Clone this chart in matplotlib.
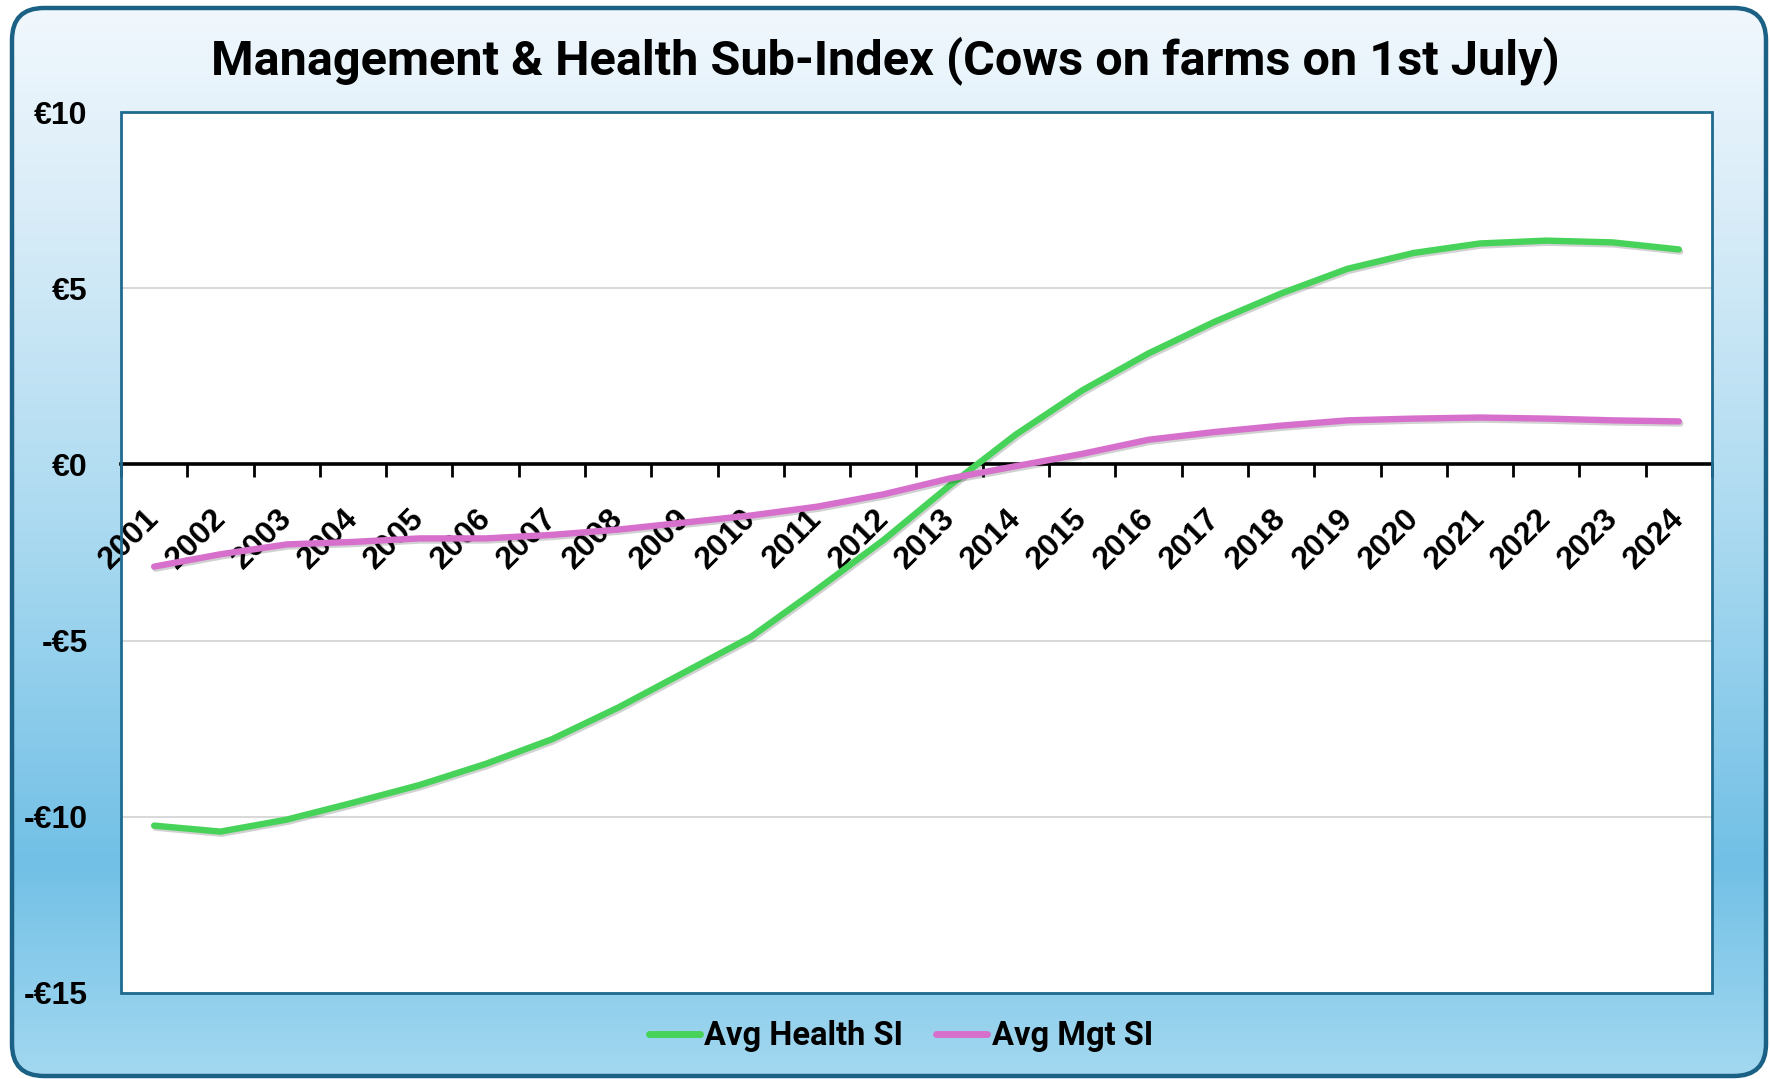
import numpy as np
import matplotlib
matplotlib.use("Agg")
import matplotlib.pyplot as plt
import matplotlib.patheffects as pe
from matplotlib.patches import FancyBboxPatch, Rectangle
from matplotlib.colors import LinearSegmentedColormap
from matplotlib.lines import Line2D

# data
years = [str(y) for y in range(2001, 2025)]
health_si = [-10.25, -10.42, -10.08, -9.6, -9.1, -8.5, -7.8, -6.9, -5.9, -4.9,
             -3.55, -2.15, -0.6, 0.85, 2.1, 3.15, 4.05, 4.85, 5.55, 6.0,
             6.27, 6.35, 6.3, 6.1]
mgt_si = [-2.9, -2.55, -2.27, -2.2, -2.1, -2.1, -2.0, -1.85, -1.65, -1.45,
          -1.2, -0.85, -0.4, -0.05, 0.3, 0.7, 0.92, 1.1, 1.25, 1.3,
          1.33, 1.3, 1.25, 1.22]
y_ticks = [10, 5, 0, -5, -10, -15]
y_labels = ["€10", "€5", "€0", "-€5", "-€10", "-€15"]

green = "#47D35A"
pink = "#D670CC"
border = "#1B6185"
narrow = ["Roboto", "DejaVu Sans"]

W, H = 1770, 1079
fig = plt.figure(figsize=(W / 100, H / 100), dpi=100, facecolor="white")

#----------------------------------------------------------------------------------
# gradient background inside rounded frame
#----------------------------------------------------------------------------------
bg = fig.add_axes([0, 0, 1, 1], zorder=0)
bg.set_xlim(0, W)
bg.set_ylim(0, H)
bg.axis("off")
cmap = LinearSegmentedColormap.from_list(
    "bgc", [(0.0, "#A3D8F0"), (0.2, "#72C0E6"), (0.5, "#A9D9F0"),
            (0.8, "#D8ECF8"), (1.0, "#F2F8FD")])
grad = np.linspace(0, 1, 256).reshape(-1, 1)
frame = FancyBboxPatch((12, 3), W - 16, H - 11,
                       boxstyle="round,pad=0,rounding_size=32",
                       fc="none", ec=border, lw=3.2, zorder=3)
bg.add_patch(frame)
im = bg.imshow(grad, cmap=cmap, origin="lower", extent=[0, W, 0, H],
               aspect="auto", zorder=1)
im.set_clip_path(frame)

#----------------------------------------------------------------------------------
# main plot
#----------------------------------------------------------------------------------
plt.rcParams["font.family"] = ["Liberation Sans", "DejaVu Sans"]
ax = fig.add_axes([121 / W, 1 - 993 / H, (1712 - 121) / W, (993 - 112) / H], zorder=2)
ax.set_facecolor("white")

x = np.arange(len(years))
shadow = [pe.SimpleLineShadow(offset=(1, -1.5), alpha=0.18, shadow_color="black"), pe.Normal()]
ax.plot(x, health_si, color=green, lw=4.6, solid_capstyle="round",
        solid_joinstyle="round", path_effects=shadow, zorder=4)
ax.plot(x, mgt_si, color=pink, lw=4.6, solid_capstyle="round",
        solid_joinstyle="round", path_effects=shadow, zorder=4)

ax.set_xlim(-0.5, len(years) - 0.5)
ax.set_ylim(-15, 10)
ax.set_yticks(y_ticks)
ax.set_yticklabels(y_labels, fontsize=23, fontweight="bold")
ax.tick_params(axis="y", length=0, pad=24)
ax.yaxis.grid(True, color="#D9D9D9", lw=1.5)
ax.set_axisbelow(True)

for s in ["top", "left", "right"]:
    ax.spines[s].set_visible(False)
ax.spines["bottom"].set_position(("data", 0))
ax.spines["bottom"].set_color("black")
ax.spines["bottom"].set_linewidth(2.6)
ax.spines["bottom"].set_zorder(3)

ax.set_xticks(np.arange(-0.5, len(years), 1))
ax.set_xticklabels([])
ax.tick_params(axis="x", which="major", length=9, width=2, color="black")
ax.set_xticks(x - 0.15, minor=True)
ax.set_xticklabels(years, minor=True, rotation=45, ha="right", va="top",
                   rotation_mode="anchor", fontsize=23, fontweight="bold")
ax.tick_params(axis="x", which="minor", length=0, pad=28)
for lab in ax.get_xticklabels(minor=True):
    lab.set_zorder(5)

ax.add_patch(Rectangle((0, 0), 1, 1, transform=ax.transAxes, fill=False,
                       ec="#1F6A8F", lw=2, clip_on=False, zorder=6))

#----------------------------------------------------------------------------------
# title and legend
#----------------------------------------------------------------------------------
fig.text(0.5, 1 - 61 / H, "Management & Health Sub-Index (Cows on farms on 1st July)",
         ha="center", va="center", fontsize=35, fontweight="bold", family=narrow)

handles = [Line2D([], [], color=green, lw=5, solid_capstyle="round"),
           Line2D([], [], color=pink, lw=5, solid_capstyle="round")]
fig.legend(handles, ["Avg Health SI", "Avg Mgt SI"], loc="center",
           bbox_to_anchor=(0.509, 1 - 1036 / H), ncol=2, frameon=False,
           handlelength=1.55, handletextpad=0.15, columnspacing=1.0,
           prop={"family": narrow, "weight": "bold", "size": 23.5})

fig.savefig("out.png", dpi=100, facecolor="white")
